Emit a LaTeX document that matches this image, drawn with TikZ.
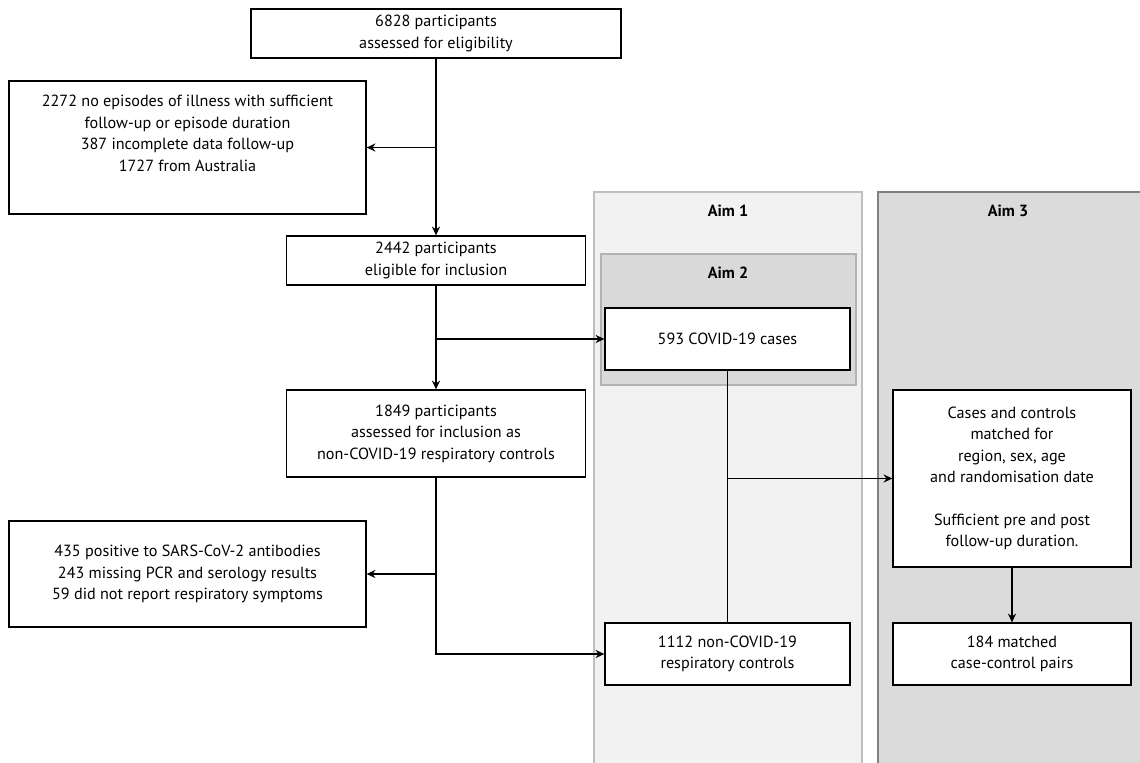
\documentclass[tikz,border=0pt]{standalone}
\usepackage{fontspec}
\setmainfont{PT Sans}
\usetikzlibrary{arrows.meta}
\begin{document}
\begin{tikzpicture}[>={Stealth[length=5pt,width=4.6pt]},x=0.02cm,y=-0.02cm,
	box/.style={draw,fill=white,line width=0.75pt,align=center,inner sep=0pt,font=\fontsize{9.2}{12.2}\selectfont},
	aim/.style={font=\fontsize{9.2}{11}\selectfont\bfseries},
	link/.style={line width=0.75pt}]
	\useasboundingbox (0,0) rectangle (1140,762);
	% aim panels
	\draw[fill=black!5,draw=black!25,line width=0.8pt] (594,192) rectangle (862,780);
	\draw[fill=black!14,draw=black!50,line width=0.8pt] (878,192) rectangle (1145,780);
	\draw[fill=black!15,draw=black!30,line width=0.8pt] (601,254) rectangle (856,385);
	\node[aim] (aim1) at (728,211) {Aim 1};
	\node[aim] (aim2) at (728,273) {Aim 2};
	\node[aim] (aim3) at (1008,211) {Aim 3};
	% boxes
	\node[box,minimum width=7.4cm,minimum height=0.98cm] (total) at (436,33.5) {6828 participants\\assessed for eligibility};
	\node[box,minimum width=7.14cm,minimum height=2.66cm] (excl1) at (187.5,147.5) {2272 no episodes of illness with sufficient\\follow-up or episode duration\\387 incomplete data follow-up\\1727 from Australia\\[4pt]};
	\node[box,minimum width=5.98cm,minimum height=0.98cm] (elig) at (436,260.5) {2442 participants\\eligible for inclusion};
	\node[box,minimum width=5.98cm,minimum height=1.74cm] (assess) at (436,433.5) {1849 participants\\assessed for inclusion as\\non-COVID-19 respiratory controls};
	\node[box,minimum width=7.14cm,minimum height=2.12cm] (excl2) at (187.5,574) {435 positive to SARS-CoV-2 antibodies\\243 missing PCR and serology results\\59 did not report respiratory symptoms};
	\node[box,minimum width=4.9cm,minimum height=1.24cm] (cases) at (727.5,339) {593 COVID-19 cases};
	\node[box,minimum width=4.9cm,minimum height=1.24cm] (controls) at (727.5,654) {1112 non-COVID-19\\respiratory controls};
	\node[box,minimum width=4.76cm,minimum height=3.54cm] (match) at (1012,478.5) {Cases and controls\\matched for\\region, sex, age\\and randomisation date\\[12.2pt]Sufficient pre and post\\follow-up duration.};
	\node[box,minimum width=4.76cm,minimum height=1.24cm] (pairs) at (1012,654) {184 matched\\case-control pairs};
	% connectors
	\draw[link,->] (total) -- (elig);
	\draw[link,->] (total.south |- excl1.east) -- (excl1.east);
	\draw[link,->] (elig) -- (assess);
	\draw[link,->] (elig.south |- cases.west) -- (cases.west);
	\draw[link,->] (assess) |- (controls);
	\draw[link,->] (assess.south |- excl2.east) -- (excl2.east);
	\draw[link] (cases) -- (controls);
	\draw[link,->] (cases.south |- match.west) -- (match.west);
	\draw[link,->] (match) -- (pairs);
\end{tikzpicture}
\end{document}
